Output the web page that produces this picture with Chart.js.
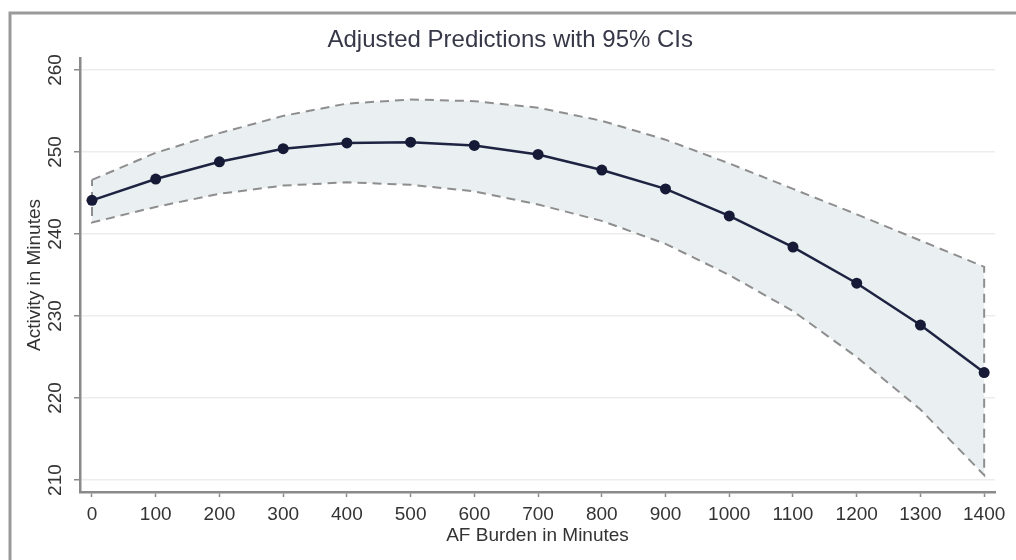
<!DOCTYPE html>
<html>
<head>
<meta charset="utf-8">
<script src="https://cdn.jsdelivr.net/npm/chart.js@4.4.1/dist/chart.umd.min.js"></script>
<style>
  html, body { margin: 0; padding: 0; background: #fff; }
  #wrap { width: 1016px; height: 560px; }
</style>
</head>
<body>
<div id="wrap"><canvas id="myChart" width="1016" height="560"></canvas></div>
<script>
// AF burden (x) and predicted activity with 95% CI
var burden = [0, 100, 200, 300, 400, 500, 600, 700, 800, 900, 1000, 1100, 1200, 1300, 1400];
var predicted = [244.1, 246.7, 248.8, 250.4, 251.1, 251.2, 250.8, 249.7, 247.8, 245.5, 242.2, 238.4, 234.0, 228.9, 223.1];
var upperCI = [246.6, 249.9, 252.3, 254.4, 255.9, 256.4, 256.2, 255.4, 253.8, 251.5, 248.6, 245.5, 242.4, 239.2, 236.0];
var lowerCI = [241.4, 243.3, 244.9, 245.9, 246.3, 246.0, 245.2, 243.6, 241.6, 238.8, 235.0, 230.6, 225.0, 218.6, 210.6];

var xTicks = [0, 100, 200, 300, 400, 500, 600, 700, 800, 900, 1000, 1100, 1200, 1300, 1400];
var yTicks = [210, 220, 230, 240, 250, 260];

var fontFamily = "'Liberation Sans', Arial, Helvetica, sans-serif";

// closed outline of the CI band: upper left->right, lower right->left
var band = [];
burden.forEach(function (x, i) { band.push({ x: x, y: upperCI[i] }); });
for (var i = burden.length - 1; i >= 0; i--) band.push({ x: burden[i], y: lowerCI[i] });
band.push({ x: burden[0], y: upperCI[0] });

var line = burden.map(function (x, i) { return { x: x, y: predicted[i] }; });

// grey frame round the graph (top and left edges only are in view)
var framePlugin = {
  id: 'frame',
  beforeDraw: function (chart) {
    var c = chart.ctx;
    c.save();
    c.fillStyle = '#ffffff';
    c.fillRect(0, 0, chart.width, chart.height);
    c.strokeStyle = '#9a9a9a';
    c.lineWidth = 3;
    c.beginPath();
    c.moveTo(10, chart.height);
    c.lineTo(10, 13);
    c.lineTo(chart.width, 13);
    c.stroke();
    c.restore();
  }
};

function plainLabel(value) { return String(value); }

var ctx = document.getElementById('myChart');

var chart = new Chart(ctx, {
  type: 'scatter',
  data: {
    datasets: [
      {
        label: 'Prediction',
        data: line,
        showLine: true,
        borderColor: '#1f2342',
        borderWidth: 2.5,
        backgroundColor: '#161a36',
        pointRadius: 5.5,
        pointBorderWidth: 0,
        tension: 0,
        order: 0
      },
      {
        label: '95% CI',
        data: band,
        showLine: true,
        fill: 'shape',
        backgroundColor: '#eaf0f2',
        borderColor: '#8e8e8e',
        borderWidth: 2,
        borderDash: [9, 6],
        pointRadius: 0,
        tension: 0,
        order: 1
      }
    ]
  },
  options: {
    responsive: false,
    animation: false,
    layout: { padding: { left: 25.5, right: 21, top: 28, bottom: 15 } },
    plugins: {
      legend: { display: false },
      tooltip: { enabled: false },
      title: {
        display: true,
        text: 'Adjusted Predictions with 95% CIs',
        color: '#363848',
        font: { family: fontFamily, size: 24, weight: 'normal', lineHeight: 1 },
        padding: { top: 0, bottom: 6 }
      }
    },
    scales: {
      x: {
        type: 'linear',
        min: -18.8,
        max: 1417,
        afterBuildTicks: function (scale) {
          scale.ticks = xTicks.map(function (v) { return { value: v }; });
        },
        afterFit: function (scale) {
          scale.height = 53;
          scale.paddingLeft = 0;
          scale.paddingRight = 0;
        },
        grid: { drawOnChartArea: false, tickLength: 5, tickColor: '#8a8a8a', tickWidth: 1.5 },
        border: { color: '#8a8a8a', width: 2.5 },
        ticks: {
          color: '#333',
          padding: 8,
          maxRotation: 0,
          autoSkip: false,
          callback: plainLabel,
          font: { family: fontFamily, size: 19, lineHeight: 1 }
        },
        title: {
          display: true,
          text: 'AF Burden in Minutes',
          color: '#333',
          font: { family: fontFamily, size: 19, lineHeight: 1 },
          padding: { top: 2, bottom: 0 }
        }
      },
      y: {
        min: 208.54,
        max: 261.46,
        afterBuildTicks: function (scale) {
          scale.ticks = yTicks.map(function (v) { return { value: v }; });
        },
        afterFit: function (scale) {
          scale.width = 54.5;
          scale.paddingTop = 0;
          scale.paddingBottom = 0;
        },
        grid: { color: '#ededed', lineWidth: 1.5, tickLength: 6, tickColor: '#8a8a8a', tickWidth: 1.5 },
        border: { color: '#8a8a8a', width: 2.5 },
        ticks: {
          color: '#333',
          padding: 2,
          minRotation: 90,
          maxRotation: 90,
          crossAlign: 'center',
          callback: plainLabel,
          font: { family: fontFamily, size: 19, lineHeight: 1 }
        },
        title: {
          display: true,
          text: 'Activity in Minutes',
          color: '#333',
          font: { family: fontFamily, size: 19, lineHeight: 1 },
          padding: { top: 0, bottom: 8.5 }
        }
      }
    }
  },
  plugins: [framePlugin]
});
</script>
</body>
</html>
